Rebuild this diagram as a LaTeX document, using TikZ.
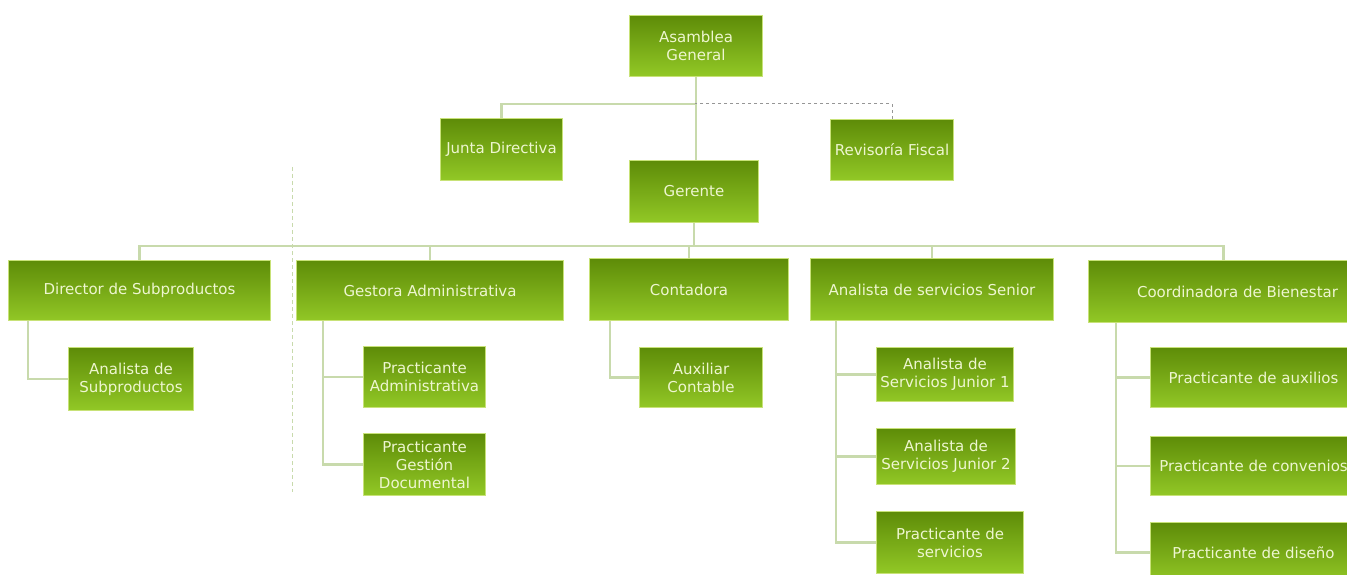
\documentclass[tikz,border=0pt]{standalone}
\usepackage{fontspec}
\setmainfont{DejaVu Sans}
\usetikzlibrary{positioning}

\definecolor{boxtop}{RGB}{94,140,8}
\definecolor{boxbot}{RGB}{146,200,38}
\definecolor{boxrim}{RGB}{200,226,120}
\definecolor{boxtext}{RGB}{238,246,208}
\definecolor{linkcol}{RGB}{200,218,172}
\definecolor{dashcol}{RGB}{150,150,150}

\begin{document}
\begin{tikzpicture}[x=1pt,y=-1pt,
                main node/.style={draw=boxrim,line width=1pt,top color=boxtop,bottom color=boxbot,
                  text=boxtext,font=\fontsize{15}{18}\selectfont,align=center,inner sep=0pt,anchor=north west},
                link/.style={draw=linkcol,line width=2.5pt},
                dashlink/.style={draw=dashcol,line width=1pt,dash pattern=on 3pt off 3pt},
                sepline/.style={draw=linkcol,line width=1pt,dash pattern=on 4pt off 3pt}]
                \useasboundingbox (0,0) rectangle (1347,575);
                \fill[white] (0,0) rectangle (1347,575);
                \clip (0,0) rectangle (1347,575);

                \node[main node,minimum width=133pt,minimum height=61pt] (ag) at (629,15) {Asamblea\\General};
                \node[main node,minimum width=122pt,minimum height=62pt] (jd) at (440,118) {Junta Directiva};
                \node[main node,minimum width=123pt,minimum height=61pt] (rf) at (830,119) {Revisoría Fiscal};
                \node[main node,minimum width=129pt,minimum height=62pt] (ger) at (629,160) {Gerente};

                \node[main node,minimum width=262pt,minimum height=60pt] (dir) at (8,260) {Director de Subproductos};
                \node[main node,minimum width=267pt,minimum height=60pt] (ges) at (296,260) {Gestora Administrativa};
                \node[main node,minimum width=199pt,minimum height=62pt] (con) at (589,258) {Contadora};
                \node[main node,minimum width=243pt,minimum height=62pt] (ans) at (810,258) {Analista de servicios Senior};
                \node[main node,minimum width=298pt,minimum height=62pt] (cob) at (1088,260) {Coordinadora de Bienestar};

                \node[main node,minimum width=125pt,minimum height=63pt] (asp) at (68,347) {Analista de\\Subproductos};
                \node[main node,minimum width=122pt,minimum height=61pt] (pad) at (363,346) {Practicante\\Administrativa};
                \node[main node,minimum width=122pt,minimum height=62pt] (pgd) [below=25pt of pad.south west,anchor=north west] {Practicante\\Gestión\\Documental};
                \node[main node,minimum width=123pt,minimum height=60pt] (auc) at (639,347) {Auxiliar\\Contable};
                \node[main node,minimum width=137pt,minimum height=54pt] (aj1) at (876,347) {Analista de\\Servicios Junior 1};
                \node[main node,minimum width=139pt,minimum height=56pt] (aj2) [below=26pt of aj1.south west,anchor=north west] {Analista de\\Servicios Junior 2};
                \node[main node,minimum width=147pt,minimum height=62pt] (pse) [below=26pt of aj2.south west,anchor=north west] {Practicante de\\servicios};
                \node[main node,minimum width=206pt,minimum height=60pt] (pau) at (1150,347) {Practicante de auxilios};
                \node[main node,minimum width=206pt,minimum height=59pt] (pco) [below=28pt of pau.south west,anchor=north west] {Practicante de convenios};
                \node[main node,minimum width=206pt,minimum height=60pt] (pdi) [below=26pt of pco.south west,anchor=north west] {Practicante de diseño};

                \coordinate (topbus) at (695,104);
                \coordinate (midbus) at (695,246);

                \draw[link] (ag.south) -- (ag.south |- ger.north);
                \draw[link] (jd.north) |- (topbus);
                \draw[dashlink] (rf.north) |- (topbus);
                \draw[link] (ger.south) -- (ger.south |- midbus);
                \draw[link] (dir.north) |- (midbus);
                \draw[link] (ges.north) |- (midbus);
                \draw[link] (con.north) |- (midbus);
                \draw[link] (ans.north) |- (midbus);
                \draw[link] ([xshift=-14pt]cob.north) |- (midbus);

                \draw[link] ([xshift=20pt]dir.south west) |- (asp.west);
                \draw[link] ([xshift=27pt]ges.south west) |- (pgd.west);
                \draw[link] ([xshift=27pt]ges.south west |- pad.west) -- (pad.west);
                \draw[link] ([xshift=21pt]con.south west) |- (auc.west);
                \draw[link] ([xshift=26pt]ans.south west) |- (pse.west);
                \draw[link] ([xshift=26pt]ans.south west |- aj1.west) -- (aj1.west);
                \draw[link] ([xshift=26pt]ans.south west |- aj2.west) -- (aj2.west);
                \draw[link] ([xshift=28pt]cob.south west) |- (pdi.west);
                \draw[link] ([xshift=28pt]cob.south west |- pau.west) -- (pau.west);
                \draw[link] ([xshift=28pt]cob.south west |- pco.west) -- (pco.west);

                \draw[sepline] (292,167) -- (292,492);
\end{tikzpicture}
\end{document}
